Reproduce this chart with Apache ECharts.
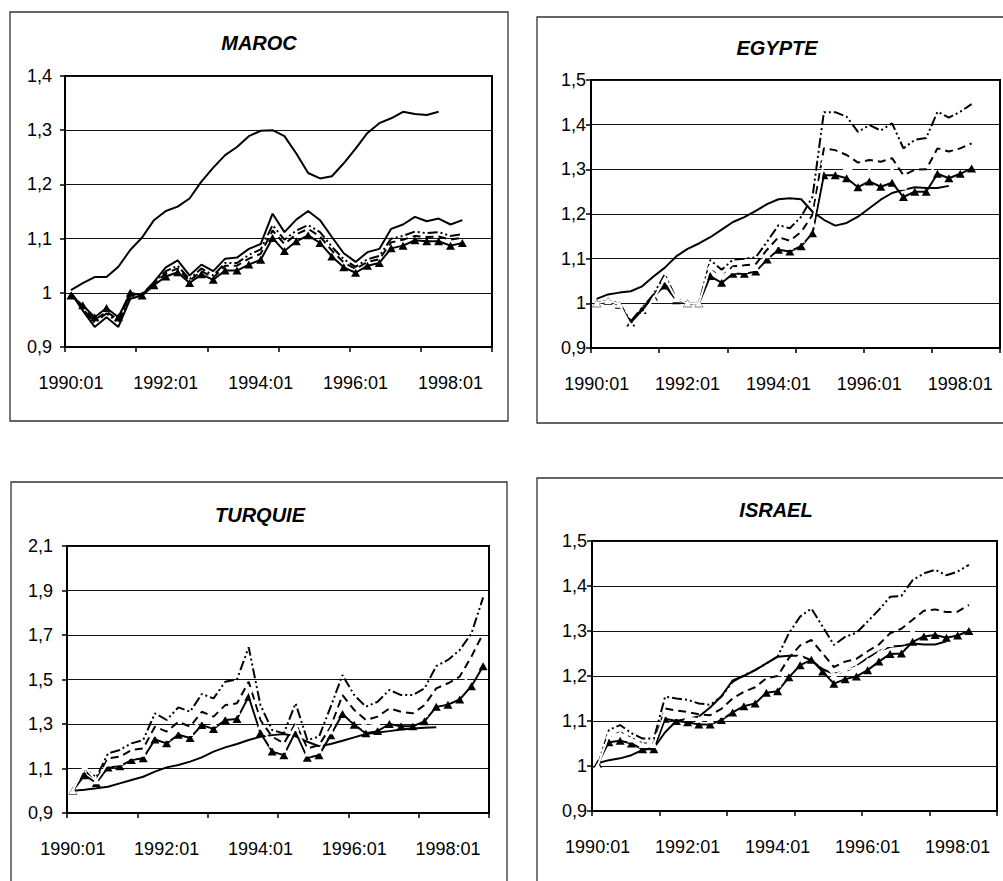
<!DOCTYPE html>
<html><head><meta charset="utf-8">
<script src="https://cdn.jsdelivr.net/npm/echarts@6/dist/echarts.min.js"></script>
<style>html,body{margin:0;padding:0;background:#fff}#c{width:1003px;height:881px}</style>
</head><body><div id="c"></div>
<script>
const categories = [
 '1990:01','1990:02','1990:03','1990:04','1991:01','1991:02','1991:03','1991:04',
 '1992:01','1992:02','1992:03','1992:04','1993:01','1993:02','1993:03','1993:04',
 '1994:01','1994:02','1994:03','1994:04','1995:01','1995:02','1995:03','1995:04',
 '1996:01','1996:02','1996:03','1996:04','1997:01','1997:02','1997:03','1997:04',
 '1998:01','1998:02','1998:03','1998:04'];

// MAROC
const marocA = [1.005,1.018,1.029,1.029,1.048,1.079,1.102,1.134,1.151,1.159,1.174,1.205,1.231,1.254,1.269,1.289,1.299,1.300,1.289,1.257,1.221,1.211,1.215,1.239,1.266,1.295,1.313,1.322,1.334,1.330,1.328,1.334];
const marocB = [1.0,0.967,0.937,0.955,0.937,0.989,0.995,1.02,1.047,1.06,1.032,1.052,1.04,1.063,1.065,1.081,1.09,1.146,1.112,1.135,1.151,1.134,1.103,1.073,1.057,1.075,1.081,1.118,1.126,1.14,1.132,1.137,1.126,1.134];
const marocD = [1.0,0.97,0.945,0.962,0.945,0.995,0.998,1.018,1.04,1.05,1.025,1.045,1.032,1.055,1.055,1.07,1.08,1.125,1.098,1.115,1.125,1.112,1.085,1.062,1.048,1.062,1.068,1.1,1.105,1.113,1.11,1.112,1.105,1.108];
const marocS = [1.0,0.972,0.95,0.965,0.95,0.997,0.997,1.016,1.036,1.045,1.022,1.04,1.028,1.05,1.05,1.063,1.072,1.115,1.09,1.108,1.118,1.104,1.078,1.056,1.044,1.057,1.062,1.093,1.098,1.105,1.103,1.104,1.098,1.102];
const marocT = [0.995,0.977,0.955,0.972,0.955,1.0,0.995,1.014,1.03,1.038,1.018,1.034,1.024,1.041,1.041,1.052,1.061,1.101,1.077,1.095,1.106,1.092,1.067,1.047,1.037,1.05,1.055,1.082,1.087,1.097,1.095,1.095,1.087,1.092];

// EGYPTE
const egypteA = [1.01,1.02,1.024,1.027,1.038,1.06,1.08,1.105,1.122,1.134,1.148,1.165,1.182,1.193,1.207,1.222,1.233,1.235,1.233,1.205,1.187,1.174,1.18,1.194,1.213,1.232,1.247,1.254,1.26,1.258,1.258,1.263];
const egypteD = [1.0,1.006,1.0,0.96,0.99,1.02,1.065,1.01,1.0,1.0,1.097,1.075,1.098,1.1,1.103,1.138,1.175,1.168,1.194,1.239,1.428,1.428,1.418,1.384,1.399,1.387,1.403,1.347,1.366,1.37,1.429,1.416,1.429,1.446];
const egypteS = [1.0,1.005,0.998,0.958,0.987,1.017,1.052,1.008,1.0,1.0,1.08,1.06,1.083,1.085,1.088,1.12,1.148,1.14,1.16,1.198,1.347,1.343,1.332,1.315,1.321,1.317,1.325,1.287,1.299,1.3,1.347,1.34,1.347,1.358];
const egypteT = [1.0,1.005,0.997,0.957,0.985,1.015,1.04,1.007,1.0,1.0,1.061,1.046,1.066,1.066,1.071,1.098,1.12,1.116,1.128,1.157,1.287,1.287,1.28,1.26,1.273,1.261,1.27,1.238,1.25,1.25,1.29,1.28,1.29,1.302];
const egypteW = [1.0,1.006,0.998,0.95,0.975,1.01,1.055,1.01,1.0,1.0,1.082,1.062,1.075,1.076,1.08,1.109,1.134,1.128,1.144,1.178,1.317,1.315,1.306,1.288,1.297,1.289,1.298,1.262,1.275,1.275,1.318,1.31,1.318,1.33];

// TURQUIE
const turquieA = [1.0,1.005,1.011,1.018,1.033,1.048,1.063,1.086,1.105,1.116,1.131,1.15,1.176,1.195,1.21,1.228,1.243,1.25,1.255,1.245,1.22,1.2,1.21,1.225,1.24,1.255,1.262,1.268,1.275,1.28,1.283,1.285];
const turquieD = [1.0,1.1,1.06,1.168,1.183,1.213,1.228,1.348,1.318,1.375,1.355,1.435,1.415,1.49,1.5,1.645,1.385,1.273,1.258,1.393,1.228,1.243,1.378,1.52,1.43,1.378,1.4,1.453,1.43,1.43,1.46,1.56,1.588,1.632,1.707,1.869];
const turquieS = [1.0,1.09,1.05,1.146,1.153,1.183,1.19,1.288,1.266,1.31,1.288,1.355,1.333,1.385,1.393,1.49,1.318,1.243,1.213,1.303,1.19,1.205,1.288,1.43,1.363,1.318,1.333,1.37,1.355,1.348,1.385,1.46,1.483,1.513,1.603,1.707];
const turquieT = [1.0,1.07,1.035,1.105,1.11,1.138,1.146,1.23,1.213,1.252,1.237,1.295,1.278,1.318,1.322,1.423,1.26,1.176,1.16,1.265,1.148,1.16,1.25,1.345,1.297,1.258,1.268,1.3,1.29,1.29,1.312,1.377,1.387,1.41,1.47,1.56];
const turquieW = [1.0,1.108,1.045,1.125,1.13,1.16,1.168,1.26,1.24,1.28,1.262,1.325,1.305,1.35,1.357,1.455,1.29,1.21,1.186,1.284,1.17,1.183,1.27,1.388,1.33,1.288,1.3,1.335,1.322,1.319,1.348,1.418,1.435,1.46,1.536,1.633];

// ISRAEL
const israelA = [1.006,1.013,1.017,1.024,1.036,1.04,1.075,1.1,1.105,1.11,1.13,1.155,1.19,1.2,1.213,1.228,1.243,1.245,1.245,1.235,1.215,1.205,1.21,1.222,1.24,1.255,1.265,1.267,1.272,1.27,1.27,1.277];
const israelD = [1.0,1.08,1.091,1.073,1.061,1.061,1.154,1.15,1.147,1.139,1.136,1.154,1.187,1.202,1.213,1.228,1.243,1.295,1.332,1.35,1.31,1.269,1.287,1.296,1.321,1.347,1.376,1.378,1.413,1.428,1.436,1.424,1.432,1.447];
const israelS = [1.0,1.065,1.075,1.062,1.05,1.05,1.128,1.123,1.12,1.115,1.113,1.127,1.15,1.165,1.175,1.195,1.2,1.24,1.268,1.28,1.25,1.22,1.232,1.238,1.255,1.27,1.295,1.305,1.325,1.345,1.348,1.342,1.343,1.358];
const israelT = [1.005,1.053,1.056,1.05,1.037,1.037,1.105,1.1,1.097,1.092,1.092,1.102,1.119,1.133,1.139,1.163,1.166,1.197,1.224,1.236,1.21,1.183,1.193,1.199,1.213,1.232,1.249,1.25,1.276,1.288,1.291,1.285,1.29,1.3];
const israelW = [1.0,1.068,1.072,1.06,1.048,1.048,1.117,1.112,1.108,1.104,1.103,1.115,1.135,1.149,1.157,1.179,1.183,1.218,1.246,1.258,1.23,1.202,1.213,1.219,1.234,1.251,1.272,1.278,1.3,1.316,1.32,1.314,1.317,1.329];

const FONT = '"Liberation Sans", Arial, sans-serif';
const panels = [
  {title:'MAROC', grid:{left:65,top:76,width:427,height:271}, y:[0.9,1.4,0.1], ym:13, box:[10,12,498,409], tp:[259,43],
   s:{D:marocD,S:marocS,A:marocA,B:marocB,T:marocT}},
  {title:'EGYPTE', grid:{left:591,top:80,width:409,height:268}, y:[0.9,1.5,0.1], ym:5, box:[537,17,500,406], tp:[777,48],
   s:{D:egypteD,S:egypteS,A:egypteA,T:egypteT,W:egypteW}},
  {title:'TURQUIE', grid:{left:67,top:546,width:422,height:267}, y:[0.9,2.1,0.2], ym:14, box:[11,482,496,450], tp:[260,515],
   s:{D:turquieD,S:turquieS,A:turquieA,T:turquieT,W:turquieW}},
  {title:'ISRAEL', grid:{left:592,top:541,width:405,height:270}, y:[0.9,1.5,0.1], ym:5, box:[537,478,500,450], tp:[776,510],
   s:{D:israelD,S:israelS,A:israelA,T:israelT,W:israelW}}
];

const grids=[], xAxes=[], yAxes=[], series=[], graphics=[];
panels.forEach((p,k)=>{
  grids.push(Object.assign({show:true,borderColor:'#000',borderWidth:2,backgroundColor:'transparent'},p.grid));
  xAxes.push({type:'category',gridIndex:k,data:categories,boundaryGap:true,
    axisLine:{show:true,lineStyle:{color:'#000',width:2}},
    axisTick:{show:true,interval:5,length:5,inside:false,lineStyle:{color:'#000',width:1.5}},
    axisLabel:{interval:7,margin:27,color:'#000',fontSize:18,fontFamily:FONT},
    splitLine:{show:false}});
  yAxes.push({type:'value',gridIndex:k,min:p.y[0],max:p.y[1],interval:p.y[2],
    axisLine:{show:true,lineStyle:{color:'#000',width:2}},
    axisTick:{show:true,length:5,inside:false,lineStyle:{color:'#000',width:1.5}},
    splitLine:{show:true,lineStyle:{color:'#111',width:1}},
    axisLabel:{margin:p.ym,color:'#000',fontSize:18,fontFamily:FONT,
      formatter:v=>String(Math.round(v*10)/10).replace('.',',')}});
  const base={type:'line',xAxisIndex:k,yAxisIndex:k,animation:false,silent:true};
  if(p.s.D) series.push(Object.assign({},base,{name:p.title+' D',data:p.s.D,symbol:'none',z:2,
    lineStyle:{color:'#000',width:2,type:[10,3,2,3,2,3]}}));
  if(p.s.S) series.push(Object.assign({},base,{name:p.title+' S',data:p.s.S,symbol:'none',z:3,
    lineStyle:{color:'#000',width:2,type:[8,5]}}));
  if(p.s.A) series.push(Object.assign({},base,{name:p.title+' A',data:p.s.A,symbol:'none',z:3,
    lineStyle:{color:'#000',width:2}}));
  if(p.s.B) series.push(Object.assign({},base,{name:p.title+' B',data:p.s.B,symbol:'none',z:3,
    lineStyle:{color:'#000',width:2}}));
  if(p.s.T) series.push(Object.assign({},base,{name:p.title+' T',data:p.s.T,symbol:'triangle',symbolSize:[9,8],
    showAllSymbol:true,z:5,itemStyle:{color:'#000',borderWidth:0},lineStyle:{color:'#000',width:2}}));
  if(p.s.W) series.push(Object.assign({},base,{name:p.title+' W',data:p.s.W,symbol:'triangle',symbolSize:[8,7],
    showAllSymbol:true,z:6,itemStyle:{color:'#fff',borderWidth:0},lineStyle:{color:'#fff',width:2}}));
  graphics.push({type:'rect',z:-1,silent:true,shape:{x:p.box[0],y:p.box[1],width:p.box[2],height:p.box[3]},
    style:{fill:'none',stroke:'#333',lineWidth:1.3}});
  graphics.push({type:'text',silent:true,z:10,x:p.tp[0],y:p.tp[1],
    style:{text:p.title,font:'italic bold 20px '+FONT,fill:'#000',align:'center',verticalAlign:'middle',textAlign:'center',textVerticalAlign:'middle'}});
});

const chart = echarts.init(document.getElementById('c'),null,{renderer:'svg'});
chart.setOption({animation:false,backgroundColor:'#fff',grid:grids,xAxis:xAxes,yAxis:yAxes,series:series,graphic:graphics,tooltip:{show:false}});
</script></body></html>
